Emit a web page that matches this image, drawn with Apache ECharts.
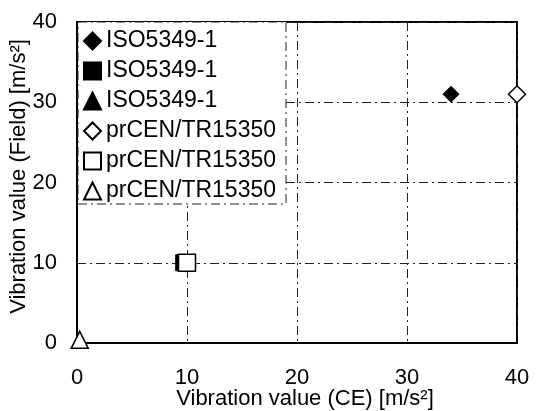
<!DOCTYPE html>
<html>
<head>
<meta charset="utf-8">
<script src="https://cdn.jsdelivr.net/npm/echarts@6/dist/echarts.min.js"></script>
<style>
  html, body { margin: 0; padding: 0; background: #fff; }
  #chart { width: 538px; height: 411px; }
</style>
</head>
<body>
<div id="chart"></div>
<script>
// values: [CE, Field] in m/s²
const isoDiamond = [[34, 31]]
const isoSquare = [[9.7, 10]]
const isoTriangle = [[0.25, 0.4]]
const cenDiamond = [[40, 31]]
const cenSquare = [[10, 10]]
const cenTriangle = [[0.25, 0.4]]

const xTicks = [0, 10, 20, 30, 40]
const yTicks = [0, 10, 20, 30, 40]
const seriesLabels = ['ISO5349-1', 'ISO5349-1', 'ISO5349-1', 'prCEN/TR15350', 'prCEN/TR15350', 'prCEN/TR15350']

const font = 'Liberation Sans, Arial, sans-serif'
const dashDot = [9, 4, 2, 4]

const filled = {color: '#000', borderColor: '#000', borderWidth: 1, opacity: 1}
const open = {color: '#fff', borderColor: '#000', borderWidth: 1.5, opacity: 1}

function mk(i, data, symbol, size, style, z) {
    return {
        name: seriesLabels[i] + ' #' + i,
        type: 'scatter',
        data: data,
        symbol: symbol,
        symbolSize: size,
        itemStyle: style,
        z: z,
        emphasis: {disabled: true}
    }
}

const chart = echarts.init(document.getElementById('chart'), null, {renderer: 'canvas'})
chart.setOption({
    backgroundColor: '#fff',
    animation: false,
    grid: {
        left: 77, right: 21, top: 22, bottom: 68,
        outerBoundsMode: 'none', containLabel: false,
        show: true, borderColor: '#000', borderWidth: 2
    },
    legend: {
        orient: 'vertical',
        left: 78, top: 22,
        padding: [7, 10, 1, 5],
        itemWidth: 17, itemHeight: 17,
        itemGap: 6,
        backgroundColor: '#fff',
        borderColor: '#222',
        borderWidth: 1,
        borderType: dashDot,
        textStyle: {fontFamily: font, fontSize: 23, color: '#000', lineHeight: 24},
        formatter: name => name.replace(/ #\d+$/, ''),
        selectedMode: false
    },
    xAxis: {
        type: 'value', min: xTicks[0], max: xTicks[xTicks.length - 1], interval: 10,
        name: 'Vibration value (CE) [m/s²]', nameLocation: 'middle', nameGap: 45,
        nameMoveOverlap: false,
        nameTextStyle: {fontFamily: font, fontSize: 22, color: '#000', padding: [0, 0, 0, 16]},
        axisLine: {lineStyle: {color: '#000', width: 2}},
        axisTick: {show: false},
        axisLabel: {fontFamily: font, fontSize: 22, color: '#000', margin: 24},
        splitLine: {lineStyle: {color: '#222', width: 1, type: dashDot}}
    },
    yAxis: {
        type: 'value', min: yTicks[0], max: yTicks[yTicks.length - 1], interval: 10,
        name: 'Vibration value (Field) [m/s²]', nameLocation: 'middle', nameGap: 47,
        nameMoveOverlap: false,
        nameTextStyle: {fontFamily: font, fontSize: 22, color: '#000', padding: [0, 0, 0, 12]},
        axisLine: {lineStyle: {color: '#000', width: 2}},
        axisTick: {show: false},
        axisLabel: {fontFamily: font, fontSize: 22, color: '#000', margin: 20},
        splitLine: {lineStyle: {color: '#222', width: 1, type: dashDot}}
    },
    series: [
        mk(0, isoDiamond, 'diamond', 16, filled, 3),
        mk(1, isoSquare, 'rect', 16, filled, 3),
        mk(2, isoTriangle, 'triangle', 16, filled, 3),
        mk(3, cenDiamond, 'diamond', 17, open, 4),
        mk(4, cenSquare, 'rect', 17, open, 4),
        mk(5, cenTriangle, 'triangle', 17, open, 4)
    ]
})
</script>
</body>
</html>
